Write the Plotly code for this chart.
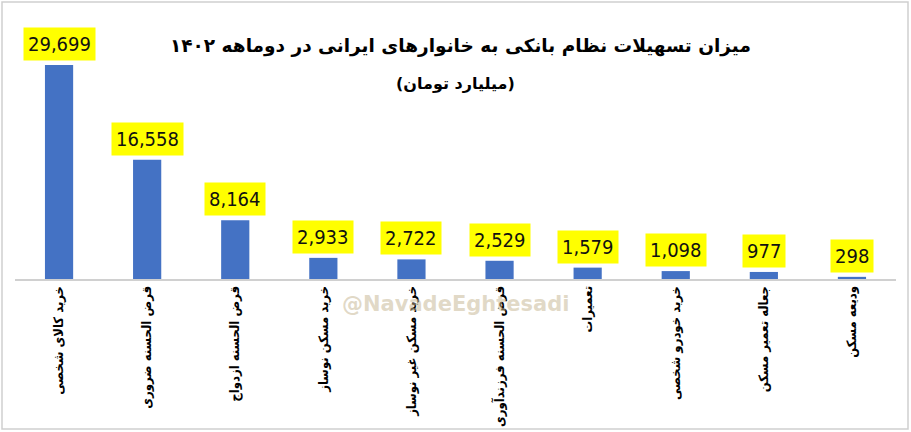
import plotly.graph_objects as go

categories = [
    "خرید کالای شخصی",
    "قرض الحسنه ضروری",
    "قرض الحسنه ازدواج",
    "خرید مسکن نوساز",
    "خرید مسکن غیر نوساز",
    "قرض الحسنه فرزندآوری",
    "تعمیرات",
    "خرید خودرو شخصی",
    "جعاله تعمیر مسکن",
    "ودیعه مسکن",
]
values = [29699, 16558, 8164, 2933, 2722, 2529, 1579, 1098, 977, 298]
value_labels = ["{:,}".format(v) for v in values]

title_text = "میزان تسهیلات نظام بانکی به خانوارهای ایرانی در دوماهه ۱۴۰۲"
subtitle_text = "(میلیارد تومان)"
watermark_text = "@NavadeEghtesadi"

W, H = 911, 432
ML, MR, MT, MB = 15, 15, 34, 153
pw = W - ML - MR
ph = H - MT - MB

fig = go.Figure()
fig.add_trace(go.Bar(
    x=categories, y=values,
    marker=dict(color="#4472C4", line=dict(width=0)),
    width=0.32,
    hoverinfo="x+y",
))

annotations = []
for c, v, t in zip(categories, values, value_labels):
    annotations.append(dict(
        x=c, y=v, xref="x", yref="y", text=t, showarrow=False,
        yanchor="bottom", yshift=4,
        font=dict(family="Liberation Sans Narrow, DejaVu Sans Condensed, Arial Narrow, sans-serif",
                  size=20, color="#111111"),
        bgcolor="#FFFF00", borderpad=4,
    ))

# watermark
annotations.append(dict(
    x=(455 - ML) / pw, y=-(318 - (H - MB)) / ph, xref="paper", yref="paper", text=watermark_text,
    showarrow=False, font=dict(family="DejaVu Sans", size=21, color="rgba(200,185,150,0.55)", weight="bold"),
))

# titles
annotations.append(dict(
    x=(460 - ML) / pw, y=(H - MB - 33) / ph, xref="paper", yref="paper", text=title_text,
    showarrow=False, font=dict(family="DejaVu Sans", size=18.5, color="#000000", weight="bold"),
))
annotations.append(dict(
    x=(455 - ML) / pw, y=(H - MB - 72) / ph, xref="paper", yref="paper", text=subtitle_text,
    showarrow=False, font=dict(family="DejaVu Sans", size=16, color="#000000", weight="bold"),
))

fig.add_shape(type="rect", xref="paper", yref="paper",
              x0=(2 - ML) / pw, x1=(W - 3 - ML) / pw,
              y0=-(H - 3 - (H - MB)) / ph, y1=(H - MB - 2) / ph,
              line=dict(color="#CFCFCF", width=1.5), layer="below")

fig.update_layout(
    width=W, height=H,
    margin=dict(l=ML, r=MR, t=MT, b=MB),
    paper_bgcolor="white", plot_bgcolor="white",
    showlegend=False,
    annotations=annotations,
    xaxis=dict(
        tickangle=-90, showgrid=False, zeroline=False,
        showline=True, linecolor="#D0D0D0", linewidth=1.5,
        ticks="", tickfont=dict(family="DejaVu Sans Condensed, DejaVu Sans", size=13, color="#000000", weight="bold"),
        automargin=False,
    ),
    yaxis=dict(range=[0, 34000], visible=False, showgrid=False, zeroline=False),
)

fig.write_html("out.html", config={"displayModeBar": False},
               post_script="document.body.style.margin='0';document.body.style.overflow='hidden';")
